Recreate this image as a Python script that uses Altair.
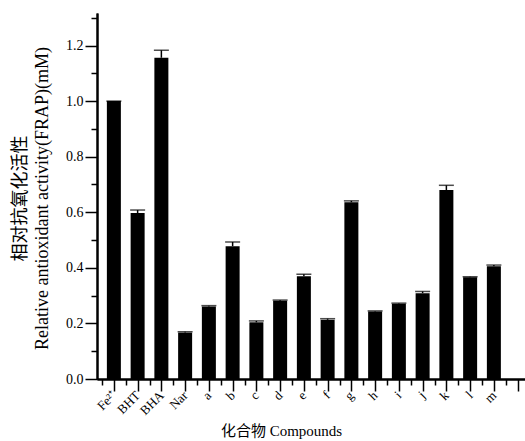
import altair as alt
import pandas as pd

compounds = ["Fe²⁺", "BHT", "BHA", "Nar", "a", "b", "c", "d", "e", "f", "g", "h", "i", "j", "k", "l", "m"]
values = [1.0, 0.597, 1.156, 0.167, 0.261, 0.478, 0.204, 0.282, 0.370, 0.213, 0.636, 0.243, 0.271, 0.309, 0.680, 0.366, 0.406]
errors = [0.0, 0.011, 0.027, 0.003, 0.003, 0.015, 0.005, 0.002, 0.007, 0.004, 0.005, 0.002, 0.002, 0.006, 0.017, 0.002, 0.004]

y_major = [0.0, 0.2, 0.4, 0.6, 0.8, 1.0, 1.2]
y_minor = [0.1, 0.3, 0.5, 0.7, 0.9, 1.1, 1.3]
x_major = list(range(1, 19))
x_minor = [k + 0.5 for k in range(0, 18)]

df = pd.DataFrame({
    "idx": list(range(1, len(compounds) + 1)),
    "name": compounds,
    "value": values,
    "err": errors,
})
df["upper"] = df["value"] + df["err"]

FONT = "Liberation Serif, Noto Sans CJK SC"

names_js = "[" + ",".join("'" + c + "'" for c in compounds) + "]"
label_expr = ("datum.value <= " + str(len(compounds)) +
              " ? " + names_js + "[datum.value - 1] : ''")

common = dict(tickColor="black", tickWidth=1.5, domainColor="black", domainWidth=2, grid=False)

x_axis = alt.Axis(
    values=x_major,
    orient="bottom",
    labelExpr=label_expr,
    labelAngle=315,
    labelAlign="right",
    labelBaseline="middle",
    labelFontSize=13,
    labelFont=FONT,
    labelPadding=2,
    labelColor="black",
    labelOverlap=False,
    labelBound=False,
    tickSize=12,
    title="化合物 Compounds",
    titleFont=FONT,
    titleFontSize=15,
    titleFontWeight="normal",
    titleColor="black",
    titleX=184,
    titleY=56,
    titleBaseline="alphabetic",
    **common,
)

x_axis_minor = alt.Axis(
    values=x_minor,
    orient="bottom",
    labels=False,
    tickSize=6,
    title=None,
    **common,
)

y_axis = alt.Axis(
    values=y_major,
    orient="left",
    format=".1f",
    labelFontSize=14,
    labelFont=FONT,
    labelColor="black",
    labelPadding=2,
    labelOverlap=False,
    tickSize=12,
    title=["相对抗氧化活性", "Relative antioxidant activity(FRAP)(mM)"],
    titleFont=FONT,
    titleFontSize=18,
    titleFontWeight="normal",
    titleColor="black",
    titleLineHeight=22,
    titleX=-68,
    titleY=185,
    titleAngle=-90,
    titleAlign="center",
    titleBaseline="bottom",
    **common,
)

y_axis_minor = alt.Axis(
    values=y_minor,
    orient="left",
    labels=False,
    tickSize=6,
    title=None,
    **common,
)

x_scale = alt.Scale(domain=[0.5, 18.1], nice=False, zero=False)
y_scale = alt.Scale(domain=[0, 1.317], nice=False)

base = alt.Chart(df)

bars = base.mark_bar(color="black", size=14).encode(
    x=alt.X("idx:Q", scale=x_scale, axis=x_axis),
    y=alt.Y("value:Q", scale=y_scale, axis=y_axis),
)

err_rule = base.mark_rule(color="black", strokeWidth=1.5).encode(
    x=alt.X("idx:Q", scale=x_scale, axis=x_axis_minor),
    y=alt.Y("value:Q", scale=y_scale, axis=y_axis_minor),
    y2="upper:Q",
)

caps = base.mark_tick(color="black", thickness=1.5, size=15, orient="horizontal").encode(
    x=alt.X("idx:Q", scale=x_scale, axis=None),
    y=alt.Y("upper:Q", scale=y_scale, axis=None),
)

chart = alt.layer(err_rule, bars, caps).resolve_axis(
    x="independent", y="independent"
).properties(
    width=428,
    height=366,
    autosize=alt.AutoSizeParams(type="none"),
    padding={"left": 97, "top": 13, "right": 0, "bottom": 62},
    background="white",
).configure_view(stroke=None).configure_axisBottom(
    labelAngle=315, labelAlign="right", labelBaseline="middle"
)

chart.save("out.html", embed_options={"renderer": "svg", "actions": False})
